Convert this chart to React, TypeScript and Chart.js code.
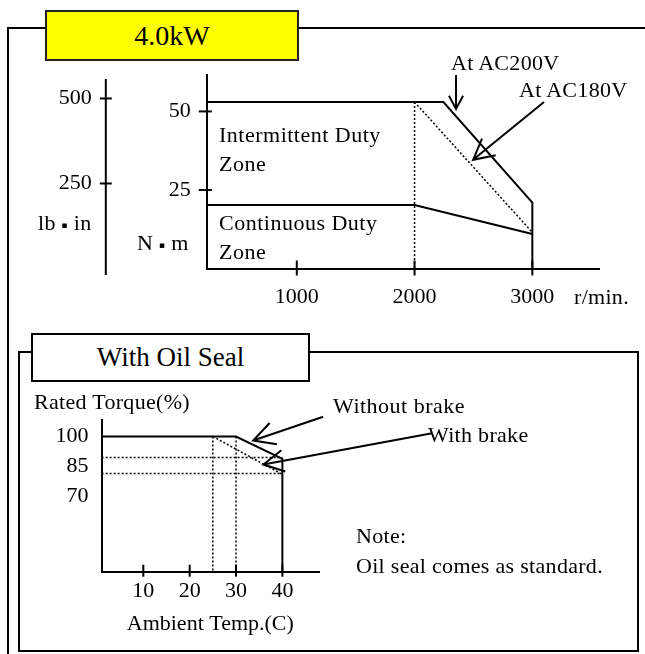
import React, { useEffect, useRef } from "react";
import { Chart, registerables } from "chart.js";

Chart.register(...registerables);

const SERIF = "'Liberation Serif', 'Times New Roman', serif";

// ---------- Top chart: speed / torque characteristics (4.0kW) ----------
const SPEED_MIN = 236;
const SPEED_MAX = 3566;
const TORQUE_MIN = 0;
const TORQUE_MAX = 61.6;
const LBIN_MIN = 0;
const LBIN_MAX = 569;
const SPEED_TICKS = [1000, 2000, 3000];
const TORQUE_TICKS = [25, 50];
const LBIN_TICKS = [250, 500];

const AC200_SPEED = [236, 2245, 3000, 3000];
const AC200_TORQUE = [53, 53, 21, 0];
const CONT_SPEED = [236, 2000, 3000];
const CONT_TORQUE = [20.2, 20.2, 11];
const AC180_SPEED = [2000, 3000];
const AC180_TORQUE = [53, 11.5];
const RATED_GUIDE_SPEED = [2000, 2000];
const RATED_GUIDE_TORQUE = [53, 0];

// arrows: [fromX, fromY, toX, toY, headLength] in data units
const TOP_ARROWS = [
  [2352, 61.6, 2352, 50.8, 15],
  [3099, 53, 2497, 34.6, 23],
];

// ---------- Bottom chart: ambient temperature derating (with oil seal) ----------
const TEMP_MIN = 1;
const TEMP_MAX = 47.9;
const RATE_MIN = 32.4;
const RATE_MAX = 108.25;
const TEMP_TICKS = [10, 20, 30, 40];
const RATE_TICKS = [70, 85, 100];

const NOBRAKE_TEMP = [1, 30, 40, 40];
const NOBRAKE_RATE = [100, 100, 88.8, 32.4];
const BRAKE_TEMP = [25, 40];
const BRAKE_RATE = [100, 81];
const GUIDE_H1_TEMP = [1, 40];
const GUIDE_H1_RATE = [89.5, 89.5];
const GUIDE_H2_TEMP = [1, 40];
const GUIDE_H2_RATE = [81.5, 81.5];
const GUIDE_V1_TEMP = [25, 25];
const GUIDE_V1_RATE = [100, 32.4];
const GUIDE_V2_TEMP = [30, 30];
const GUIDE_V2_RATE = [100, 32.4];

const BOTTOM_ARROWS = [
  [48.8, 109.9, 33.7, 98.0, 24],
  [72.3, 101.6, 35.9, 86, 23],
];

const zip = (xs: number[], ys: number[]) => xs.map((x, i) => ({ x, y: ys[i] }));

const solid = (data: any[]) => ({
  data,
  borderColor: "#000",
  borderWidth: 2,
  pointRadius: 0,
  fill: false,
  tension: 0,
});
const dotted = (data: any[]) => ({
  data,
  borderColor: "#000",
  borderWidth: 1.5,
  borderDash: [2, 2],
  pointRadius: 0,
  fill: false,
  tension: 0,
});

const decorPlugin = {
  id: "decor",
  afterDatasetsDraw(chart: any, _args: any, opts: any) {
    const ctx = chart.ctx;
    const area = chart.chartArea;
    ctx.save();
    ctx.strokeStyle = "#000";
    ctx.lineWidth = 2;
    ctx.setLineDash([]);
    // extended axis lines
    for (const ax of opts.axisLines || []) {
      const sc = chart.scales[ax.scale];
      ctx.beginPath();
      ctx.moveTo(sc.right, area.top + ax.top);
      ctx.lineTo(sc.right, area.bottom + ax.bottom);
      ctx.stroke();
    }
    for (const tm of opts.tickMarks || []) {
      const sc = chart.scales[tm.scale];
      for (const t of sc.ticks) {
        const p = sc.getPixelForValue(t.value);
        ctx.beginPath();
        if (sc.isHorizontal()) {
          ctx.moveTo(p, area.bottom - tm.inner);
          ctx.lineTo(p, area.bottom + tm.outer);
        } else {
          const ax = sc.right;
          ctx.moveTo(ax - tm.outer, p);
          ctx.lineTo(ax + tm.inner, p);
        }
        ctx.stroke();
      }
    }
    const xs = chart.scales.x;
    const ys = chart.scales.y;
    for (const a of opts.arrows || []) {
      const x1 = xs.getPixelForValue(a[0]);
      const y1 = ys.getPixelForValue(a[1]);
      const x2 = xs.getPixelForValue(a[2]);
      const y2 = ys.getPixelForValue(a[3]);
      const len = a[4];
      ctx.beginPath();
      ctx.moveTo(x1, y1);
      ctx.lineTo(x2, y2);
      const ang = Math.atan2(y1 - y2, x1 - x2);
      const spread = (28 * Math.PI) / 180;
      ctx.moveTo(x2 + len * Math.cos(ang + spread), y2 + len * Math.sin(ang + spread));
      ctx.lineTo(x2, y2);
      ctx.lineTo(x2 + len * Math.cos(ang - spread), y2 + len * Math.sin(ang - spread));
      ctx.stroke();
    }
    ctx.restore();
  },
};

const tickFont = { family: SERIF, size: 22 };
const axisBase = {
  type: "linear",
  grid: { display: false, drawTicks: false },
  border: { display: true, color: "#000", width: 2 },
};

function TopChart() {
  const ref = useRef<HTMLCanvasElement>(null);
  useEffect(() => {
    const chart = new Chart(ref.current as HTMLCanvasElement, {
      type: "line",
      data: {
        datasets: [
          solid(zip(AC200_SPEED, AC200_TORQUE)),
          solid(zip(CONT_SPEED, CONT_TORQUE)),
          dotted(zip(AC180_SPEED, AC180_TORQUE)),
          dotted(zip(RATED_GUIDE_SPEED, RATED_GUIDE_TORQUE)),
        ] as any,
      },
      options: {
        responsive: false,
        animation: false,
        events: [],
        layout: { padding: { left: 0, right: 46, top: 75, bottom: 0 } },
        plugins: {
          legend: { display: false },
          tooltip: { enabled: false },
          decor: {
            axisLines: [{ scale: "yLb", top: 4, bottom: 6.5 }],
            tickMarks: [
              { scale: "x", inner: 8, outer: 7 },
              { scale: "y", inner: 5, outer: 8 },
              { scale: "yLb", inner: 6, outer: 6 },
            ],
            arrows: TOP_ARROWS,
          },
        } as any,
        scales: {
          x: {
            ...axisBase,
            position: "bottom",
            min: SPEED_MIN,
            max: SPEED_MAX,
            afterBuildTicks: (s: any) => {
              s.ticks = SPEED_TICKS.map((v) => ({ value: v }));
            },
            afterFit: (s: any) => {
              s.height = 51.5;
            },
            ticks: { font: tickFont, color: "#000", padding: 16, maxRotation: 0, autoSkip: false, callback: (v: any) => String(v) },
          },
          y: {
            ...axisBase,
            position: "left",
            weight: 0,
            min: TORQUE_MIN,
            max: TORQUE_MAX,
            afterBuildTicks: (s: any) => {
              s.ticks = TORQUE_TICKS.map((v) => ({ value: v }));
            },
            afterFit: (s: any) => {
              s.width = 101;
            },
            ticks: { font: tickFont, color: "#000", padding: 16, autoSkip: false, callback: (v: any) => String(v) },
          },
          yLb: {
            ...axisBase,
            border: { display: false },
            position: "left",
            weight: 1,
            min: LBIN_MIN,
            max: LBIN_MAX,
            afterBuildTicks: (s: any) => {
              s.ticks = LBIN_TICKS.map((v) => ({ value: v }));
            },
            afterFit: (s: any) => {
              s.width = 105.8;
            },
            ticks: { font: tickFont, color: "#000", padding: 14, autoSkip: false, callback: (v: any) => String(v) },
          },
        } as any,
      },
      plugins: [decorPlugin as any],
    });
    return () => chart.destroy();
  }, []);
  return (
    <canvas
      ref={ref}
      width={645}
      height={320}
      style={{ position: "absolute", left: 0, top: 0, width: 645, height: 320 }}
    />
  );
}

function BottomChart() {
  const ref = useRef<HTMLCanvasElement>(null);
  useEffect(() => {
    const chart = new Chart(ref.current as HTMLCanvasElement, {
      type: "line",
      data: {
        datasets: [
          solid(zip(NOBRAKE_TEMP, NOBRAKE_RATE)),
          dotted(zip(BRAKE_TEMP, BRAKE_RATE)),
          dotted(zip(GUIDE_H1_TEMP, GUIDE_H1_RATE)),
          dotted(zip(GUIDE_H2_TEMP, GUIDE_H2_RATE)),
          dotted(zip(GUIDE_V1_TEMP, GUIDE_V1_RATE)),
          dotted(zip(GUIDE_V2_TEMP, GUIDE_V2_RATE)),
        ] as any,
      },
      options: {
        responsive: false,
        animation: false,
        events: [],
        layout: { padding: { left: 0, right: 326, top: 36, bottom: 12.8 } },
        plugins: {
          legend: { display: false },
          tooltip: { enabled: false },
          decor: {
            tickMarks: [{ scale: "x", inner: 7, outer: 5 }],
            arrows: BOTTOM_ARROWS,
          },
        } as any,
        scales: {
          x: {
            ...axisBase,
            position: "bottom",
            min: TEMP_MIN,
            max: TEMP_MAX,
            afterBuildTicks: (s: any) => {
              s.ticks = TEMP_TICKS.map((v) => ({ value: v }));
            },
            afterFit: (s: any) => {
              s.height = 69.5;
            },
            ticks: { font: tickFont, color: "#000", padding: 6, maxRotation: 0, autoSkip: false, callback: (v: any) => String(v) },
            title: {
              display: true,
              text: "Ambient Temp.(C)",
              font: tickFont,
              color: "#000",
              padding: { top: 4, bottom: 4 },
            },
          },
          y: {
            ...axisBase,
            position: "left",
            min: RATE_MIN,
            max: RATE_MAX,
            afterBuildTicks: (s: any) => {
              s.ticks = RATE_TICKS.map((v) => ({ value: v }));
            },
            afterFit: (s: any) => {
              s.width = 101.6;
            },
            ticks: { font: tickFont, color: "#000", padding: 13, autoSkip: false, callback: (v: any) => String(v) },
          },
        } as any,
      },
      plugins: [decorPlugin as any],
    });
    return () => chart.destroy();
  }, []);
  return (
    <canvas
      ref={ref}
      width={645}
      height={270}
      style={{ position: "absolute", left: 0, top: 384, width: 645, height: 270 }}
    />
  );
}

function Txt(props: { x: number; cy: number; s?: number; ls?: number; children: any }) {
  const s = props.s ?? 22;
  return (
    <div
      style={{
        position: "absolute",
        left: props.x,
        top: props.cy - s * 0.5,
        fontSize: s,
        lineHeight: `${s}px`,
        letterSpacing: props.ls ?? 0.3,
        whiteSpace: "nowrap",
        fontFamily: SERIF,
        color: "#000",
      }}
    >
      {props.children}
    </div>
  );
}

const Dot = () => (
  <span style={{ fontFamily: "'DejaVu Sans', sans-serif", fontSize: 9, verticalAlign: "2px" }}>▪</span>
);

export default function App() {
  return (
    <div
      style={{
        position: "absolute",
        left: 0,
        top: 0,
        width: 645,
        height: 654,
        background: "#fff",
        overflow: "hidden",
        fontFamily: SERIF,
      }}
    >
      {/* outer frame (top + left) */}
      <div
        style={{
          position: "absolute",
          left: 7,
          top: 27,
          width: 660,
          height: 660,
          borderTop: "2px solid #000",
          borderLeft: "2px solid #000",
          boxSizing: "border-box",
        }}
      />
      {/* title box */}
      <div
        style={{
          position: "absolute",
          left: 45,
          top: 10,
          width: 254,
          height: 51,
          background: "#ffff00",
          border: "2px solid #222",
          boxSizing: "border-box",
          display: "flex",
          alignItems: "center",
          justifyContent: "center",
          fontSize: 28,
          fontFamily: SERIF,
          color: "#000",
        }}
      >
        4.0kW
      </div>
      {/* inner frame */}
      <div
        style={{
          position: "absolute",
          left: 18,
          top: 351,
          width: 621,
          height: 301,
          border: "2px solid #000",
          boxSizing: "border-box",
        }}
      />
      <div
        style={{
          position: "absolute",
          left: 31,
          top: 333,
          width: 279,
          height: 49,
          background: "#fff",
          border: "2px solid #000",
          boxSizing: "border-box",
          display: "flex",
          alignItems: "center",
          justifyContent: "center",
          fontSize: 27,
          fontFamily: SERIF,
          color: "#000",
        }}
      >
        With Oil Seal
      </div>

      <TopChart />
      <BottomChart />

      <Txt x={38} cy={222.7}>
        lb <Dot /> in
      </Txt>
      <Txt x={137} cy={243}>
        N <Dot /> m
      </Txt>
      <Txt x={219} cy={135} ls={0.5}>Intermittent Duty</Txt>
      <Txt x={219} cy={164} ls={0.5}>Zone</Txt>
      <Txt x={219} cy={222.7} ls={0.5}>Continuous Duty</Txt>
      <Txt x={219} cy={252} ls={0.5}>Zone</Txt>
      <Txt x={451} cy={63}>At AC200V</Txt>
      <Txt x={519} cy={90}>At AC180V</Txt>
      <Txt x={574} cy={297}>r/min.</Txt>

      <Txt x={34} cy={401.7}>Rated Torque(%)</Txt>
      <Txt x={333} cy={405.7} ls={0.5}>Without brake</Txt>
      <Txt x={428} cy={435}>With brake</Txt>
      <Txt x={356} cy={536}>Note:</Txt>
      <Txt x={356} cy={566}>Oil seal comes as standard.</Txt>
    </div>
  );
}
